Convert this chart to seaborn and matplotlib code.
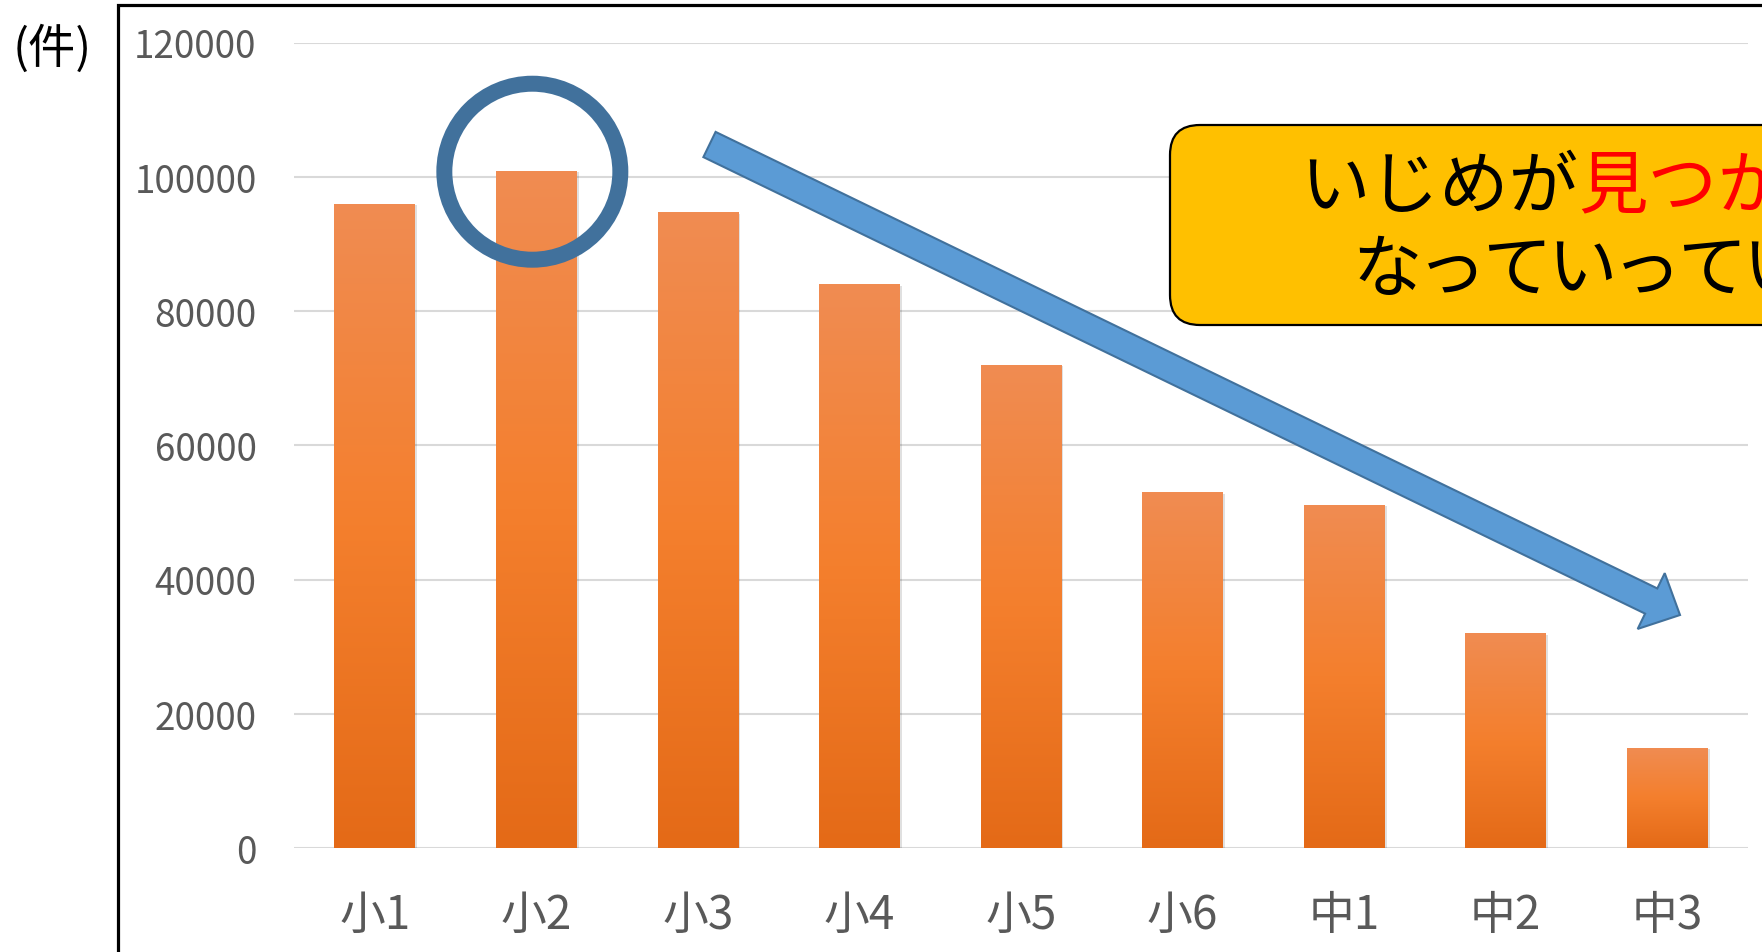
import matplotlib
matplotlib.use("Agg")
import matplotlib.pyplot as plt
import matplotlib.patheffects as pe
from matplotlib.colors import LinearSegmentedColormap
from matplotlib.patches import Circle, FancyArrow, FancyBboxPatch
import numpy as np
import pandas as pd
import seaborn as sns

# データ
grades = ['小1', '小2', '小3', '小4', '小5', '小6', '中1', '中2', '中3']
counts = [96000, 100900, 94700, 84000, 72000, 53000, 51100, 32000, 14900]
yticks = [0, 20000, 40000, 60000, 80000, 100000, 120000]

sns.set_theme(style='white')
plt.rcParams['font.family'] = ['Noto Sans CJK JP', 'DejaVu Sans']

W, H, DPI = 1762, 953, 100
fig = plt.figure(figsize=(W / DPI, H / DPI), dpi=DPI)
fig.patch.set_facecolor('white')

ax = fig.add_axes([294 / W, 1 - 849 / H, (1748 - 294) / W, (849 - 43.5) / H])
df = pd.DataFrame({'学年': grades, '件数': counts})
sns.barplot(data=df, x='学年', y='件数', width=0.5, color='#F47F2D', ax=ax,
            zorder=2, linewidth=0)

# バーのグラデーション + 薄い影
orange = LinearSegmentedColormap.from_list(
    'orange', [(0, '#E46A17'), (0.5, '#F47F2D'), (1, '#F08C52')])
grad = np.linspace(0, 1, 256).reshape(-1, 1)
for p in ax.patches:
    x0, w, h = p.get_x(), p.get_width(), p.get_height()
    p.set_facecolor('none')
    p.set_edgecolor('none')
    p.set_path_effects([pe.SimplePatchShadow(offset=(1.5, -1), shadow_rgbFace='black',
                                             alpha=0.12),
                        pe.Normal()])
    im = ax.imshow(grad, extent=[x0, x0 + w, 0, h], origin='lower', aspect='auto',
                   cmap=orange, zorder=2.5)
    im.set_clip_path(p)

ax.set_xlim(-0.5, len(grades) - 0.5)
ax.set_ylim(0, 120000)
ax.set_yticks(yticks)
ax.set_yticklabels([str(v) for v in yticks])
ax.yaxis.grid(True, color='#D9D9D9', lw=1.5, zorder=0)
ax.set_axisbelow(True)
for s in ax.spines.values():
    s.set_visible(False)
ax.tick_params(axis='y', length=0, pad=27, labelsize=26.5, labelcolor='#595959')
ax.tick_params(axis='x', length=0, pad=30.5, labelsize=33, labelcolor='#595959')
ax.set_xlabel('')
ax.set_ylabel('')

# 重ね描き用の座標 (ピクセル)
ov = fig.add_axes([0, 0, 1, 1], zorder=5)
ov.set_xlim(0, W)
ov.set_ylim(H, 0)
ov.axis('off')
ov.patch.set_alpha(0)

# 黒い枠
ov.plot([117.5, 117.5, W + 5], [H + 5, 5.5, 5.5], color='black', lw=2.3,
        solid_joinstyle='miter')

ov.text(13, 50, '(件)', fontsize=34, color='black', ha='left', va='center')

# 小2 の丸
cx, cy = ov.transData.inverted().transform(ax.transData.transform((1, counts[1])))
ov.add_patch(Circle((cx - 4, cy + 1), 88, fill=False, ec='#41719C', lw=11.5))

# 矢印
x0, y0, x1, y1 = 709.5, 145.5, 1680, 616
ov.add_patch(FancyArrow(x0, y0, x1 - x0, y1 - y0, width=28, head_width=62,
                        head_length=32, length_includes_head=True,
                        fc='#5B9BD5', ec='#41719C', lw=1.5))

# 吹き出し
ov.add_patch(FancyBboxPatch((1170, 126), 700, 200,
                            boxstyle='round,pad=0,rounding_size=30',
                            fc='#FFC000', ec='black', lw=1.6))
fs = 50
em = fs * DPI / 72
ov.text(1300, 188, 'いじめが', fontsize=fs, color='black', ha='left', va='center')
ov.text(1300 + 4 * em, 188, '見つかりにくく', fontsize=fs, color='#FF0000',
        ha='left', va='center')
# 2行目はプロポーショナル気味の字詰め
for i, ch in enumerate('なっていっている'):
    ov.text(1352 + i * 65, 271, ch, fontsize=fs, color='black', ha='left',
            va='center')

fig.savefig('out.png', dpi=DPI)
